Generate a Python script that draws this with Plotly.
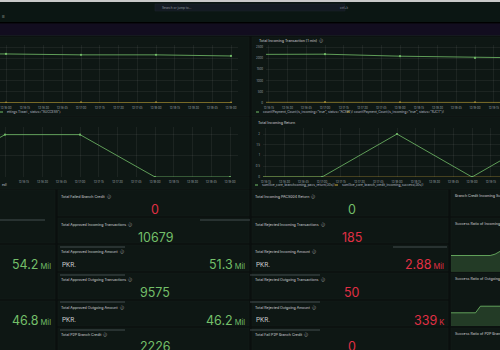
import plotly.graph_objects as go

W, H = 500, 350
def X(p): return p / W
def Y(p): return 1 - p / H

GREEN = '#73bf69'
YELLOW = '#c9a93a'
RED = '#e02f44'
FONT = 'Inter'
D = '2024-05-20 '

# ---------------- data ----------------
tl_time = ["13:15:00", "13:16:00", "13:17:00", "13:18:00", "13:19:00"]
tl_success = [2190, 2190, 2150, 2150, 2100]
tl_failed = [20, 20, 25, 25, 20]

tr_time = ["13:16:00", "13:17:00", "13:18:00", "13:19:00", "13:20:00"]
tr_accepted = [2170, 2180, 2090, 2015, 2000]
tr_rejected = [30, 35, 30, 25, 25]

ml_time = ["13:15:00", "13:16:00", "13:17:00", "13:18:00", "13:19:00"]
ml_values = [0, 1, 1, 0, 0]

mr_time = ["13:16:00", "13:17:00", "13:18:00", "13:19:00", "13:20:00"]
mr_return = [0, 0, 2, 0, 2]
mr_credit = [0, 0, 0, 0, 0]

spark_in = [98.2, 98.2, 98.2, 98.2, 98.2, 98.2, 98.2, 98.2, 98.2, 98.3, 98.5]
spark_out = [99.1, 99.1, 99.1, 99.1, 99.1, 99.1, 99.4, 99.4, 99.4, 99.4, 99.4]

col2_titles = ["Total Failed Branch Credit", "Total Approved Incoming Transactions",
               "Total Approved Incoming Amount", "Total Approved Outgoing Transactions",
               "Total Approved Outgoing Amount", "Total P2P Branch Credit"]
col2_values = ["0", "10679", "51.3", "9575", "46.2", "2226"]
col2_units = ["", "", "Mil", "", "Mil", ""]
col2_colors = [RED, GREEN, GREEN, GREEN, GREEN, GREEN]

col3_titles = ["Total Incoming PACS004 Return", "Total Rejected Incoming Transactions",
               "Total Rejected Incoming Amount", "Total Rejected Outgoing Transactions",
               "Total Rejected Outgoing Amount", "Total Fail P2P Branch Credit"]
col3_values = ["0", "185", "2.88", "50", "339", "0"]
col3_units = ["", "", "Mil", "", "K", ""]
col3_colors = [GREEN, RED, RED, RED, RED, RED]

col1_values = ["54.2", "46.8"]
col1_units = ["Mil", "Mil"]

col4_titles = ["Branch Credit Incoming Success Ratio", "Success Ratio of Incoming Payments",
               "Success Ratio of Outgoing Payments", "Success Ratio of P2P Branch Credit"]

legend_tr = ['count(Payment_Count{is_incoming="true", status="ACSP"})',
             'count(Payment_Count{is_incoming="true", status="RJCT"})']
legend_mr = ['sum(live_core_branchcoming_pacs_return[30s])',
             'sum(live_core_branch_credit_incoming_success[30s])']

# ---------------- figure ----------------
fig = go.Figure()

def T(lst):
    return [D + t for t in lst]

def ts(x, y, color, ax, markers=True, opacity=1.0):
    fig.add_trace(go.Scatter(x=T(x), y=y, mode='lines+markers' if markers else 'lines',
                             line=dict(color=color, width=0.8), opacity=opacity,
                             marker=dict(color=color, size=2.2),
                             xaxis='x' + ax, yaxis='y' + ax, hoverinfo='skip'))

ts(tl_time, tl_failed, YELLOW, '', opacity=0.75)
ts(tl_time, tl_success, GREEN, '')
ts(tr_time, tr_rejected, YELLOW, '2', opacity=0.75)
ts(tr_time, tr_accepted, GREEN, '2')
ts(ml_time, ml_values, GREEN, '3')
ts(mr_time, mr_credit, YELLOW, '4', markers=False, opacity=0.75)
ts(mr_time, mr_return, GREEN, '4')

fig.add_trace(go.Scatter(x=list(range(len(spark_in))), y=spark_in, mode='lines', fill='tozeroy',
                         line=dict(color=GREEN, width=0.8), hoverinfo='skip',
                         fillcolor='rgba(115,191,105,0.22)', xaxis='x5', yaxis='y5'))
fig.add_trace(go.Scatter(x=list(range(len(spark_out))), y=spark_out, mode='lines', fill='tozeroy',
                         line=dict(color=GREEN, width=0.8), hoverinfo='skip',
                         fillcolor='rgba(115,191,105,0.22)', xaxis='x6', yaxis='y6'))

GRID = 'rgba(255,255,255,0.06)'
TICKF = dict(family=FONT, size=2.8, color='#9aa0a6')
HIDDEN = dict(family=FONT, size=1, color='rgba(0,0,0,0)')

def xt(dom, rng, anchor):
    return dict(domain=dom, anchor=anchor, range=[D + rng[0], D + rng[1]], type='date',
                tickformat='%H:%M:%S', dtick=15000, tick0=D + '13:15:00', showgrid=True,
                gridcolor=GRID, gridwidth=0.5, zeroline=False, showline=False, ticks='',
                ticklen=0, tickfont=TICKF, ticklabelstandoff=2, fixedrange=True)

def yt(dom, rng, dtick, anchor, show=True):
    return dict(domain=dom, anchor=anchor, range=rng, dtick=dtick, showgrid=True, gridcolor=GRID,
                gridwidth=0.5, zeroline=False, showline=False, ticks='',
                tickfont=TICKF if show else HIDDEN, showticklabels=show,
                ticklabelstandoff=2, fixedrange=True)

layout = dict(
    width=W, height=H, margin=dict(l=0, r=0, t=0, b=0, autoexpand=False),
    paper_bgcolor='#0a0f0e', plot_bgcolor='rgba(0,0,0,0)', showlegend=False,
    font=dict(family=FONT, color='#ccccdc'),
    xaxis=xt([0, X(238)], ['13:15:55.2', '13:19:05.6'], 'y'),
    yaxis=yt([Y(103), Y(45)], [0, 2590], 500, 'x', show=False),
    xaxis2=xt([X(266), 1], ['13:16:12.8', '13:19:20'], 'y2'),
    yaxis2=yt([Y(103), Y(45)], [0, 2590], 500, 'x2'),
    xaxis3=xt([0, X(238)], ['13:15:56', '13:19:06.4'], 'y3'),
    yaxis3=yt([Y(177), Y(127)], [0, 1.18], 0.5, 'x3', show=False),
    xaxis4=xt([X(263), 1], ['13:16:12.8', '13:19:22.4'], 'y4'),
    yaxis4=yt([Y(177), Y(128)], [0, 2.28], 0.5, 'x4'),
    xaxis5=dict(domain=[X(451), 1], anchor='y5', range=[0, 10], visible=False, fixedrange=True),
    yaxis5=dict(domain=[Y(272), Y(250)], anchor='x5', range=[97.0, 98.6], visible=False, fixedrange=True),
    xaxis6=dict(domain=[X(451), 1], anchor='y6', range=[0, 10], visible=False, fixedrange=True),
    yaxis6=dict(domain=[Y(326), Y(304)], anchor='x6', range=[98.5, 99.5], visible=False, fixedrange=True),
)

shapes = []
def rect(x0, y0, x1, y1, fill, line_color=None, lw=0):
    shapes.append(dict(type='rect', xref='paper', yref='paper', x0=X(x0), x1=X(x1), y0=Y(y1), y1=Y(y0),
                       fillcolor=fill, line=dict(color=line_color or fill, width=lw), layer='below'))

def hline(x0, x1, y, color, w=1):
    shapes.append(dict(type='line', xref='paper', yref='paper', x0=X(x0), x1=X(x1), y0=Y(y), y1=Y(y),
                       line=dict(color=color, width=w), layer='above'))

# header
rect(0, 0, 500, 2, '#c9c9c9')
rect(0, 2, 500, 22, '#0b1613')
rect(0, 22, 500, 23.5, '#000000')
rect(0, 23.5, 500, 35, '#120d1f')
rect(0, 35, 500, 36, '#15191f')
rect(155, 4, 345, 11, '#131a22', '#1e252e', 0.5)

PANEL = '#0e1714'
PB = '#141e1a'
rect(-5, 37, 249, 116, PANEL, PB, 0.5)
rect(252, 37, 505, 116, PANEL, PB, 0.5)
rect(-5, 117, 249, 189, PANEL, PB, 0.5)
rect(252, 117, 505, 189, PANEL, PB, 0.5)

row_tops = [190, 218, 245, 273, 301, 328]
row_bots = [216, 243, 271, 299, 326, 356]
for t, b in zip(row_tops, row_bots):
    rect(58, t, 249, b, PANEL, PB, 0.5)
    rect(252, t, 448, b, PANEL, PB, 0.5)
for t, b in [(190, 243), (245, 299), (301, 356)]:
    rect(-5, t, 55, b, PANEL, PB, 0.5)
for t, b in [(190, 216), (218, 271), (273, 326), (328, 356)]:
    rect(451, t, 505, b, PANEL, PB, 0.5)

GL = 'rgba(170,178,190,0.35)'
hline(0, 45, 220, GL)
hline(200, 250, 220, GL)
hline(60, 125, 247, GL)
hline(393, 447, 247, GL)
for yy in [275, 302, 330]:
    hline(60, 125, yy, GL)
    hline(250, 320, yy, GL)

for xs, yy, c in [(256, 112, GREEN), (347, 112, YELLOW), (255, 185, GREEN), (335, 185, YELLOW)]:
    hline(xs, xs + 3, yy, c, 1)
hline(0, 3, 112, GREEN, 1)

layout['shapes'] = shapes

ann = []
def text(x, y, s, size, color='#cfd0d4', anchor='left', yanchor='middle', family=FONT):
    ann.append(dict(x=X(x), y=Y(y), xref='paper', yref='paper', text=s, showarrow=False,
                    xanchor=anchor, yanchor=yanchor,
                    font=dict(family=family, size=size, color=color)))

text(160, 7.5, 'Search or jump to...', 3.2, '#8e959e')
text(338, 7.5, 'ctrl+k', 3.0, '#8e959e')
text(0, 16, '≡', 5, '#d8d8d8')

text(257, 41, 'Total Incoming Transaction (1 min)  ⓘ', 3.6)
text(256, 123, 'Total Incoming Return', 3.6)
text(5, 112, 'ettings Tiwari , status="SUCCESS"}', 3.2, '#b8bec6')
text(261, 112, legend_tr[0], 3.2, '#b8bec6')
text(352, 112, legend_tr[1], 3.2, '#b8bec6')
text(260, 185, legend_mr[0], 3.2, '#b8bec6')
text(340, 185, legend_mr[1], 3.2, '#b8bec6')
text(0, 185, 'ed)', 3.2, '#b8bec6')

title_y = [196, 224, 251, 279, 307, 334]
value_y = [209, 237, 264.5, 292, 320, 346]

def stat_col(x0, x1, titles, values, units, colors):
    for i in range(len(titles)):
        text(x0 + 1, title_y[i], titles[i] + '  ⓘ', 3.6)
        if units[i]:
            text(x0 + 2, value_y[i], 'PKR.', 6.5, '#c8c8c8', family='Roboto')
            text(x1 - 2, value_y[i],
                 values[i] + "<span style='font-size:7.5px'> " + units[i] + "</span>",
                 12.5, colors[i], anchor='right')
        else:
            text((x0 + x1) / 2 + 1.5, value_y[i], values[i], 12.5, colors[i], anchor='center')

stat_col(58, 249, col2_titles, col2_values, col2_units, col2_colors)
stat_col(252, 448, col3_titles, col3_values, col3_units, col3_colors)

for v, u, yy in zip(col1_values, col1_units, [264.5, 320]):
    text(53, yy, v + "<span style='font-size:7.5px'> " + u + "</span>", 12.5, GREEN, anchor='right')

for t, yy in zip(col4_titles, [196, 224, 279, 334]):
    text(453, yy, t, 3.6)

layout['annotations'] = ann
fig.update_layout(**layout)
fig.write_html('out.html')
